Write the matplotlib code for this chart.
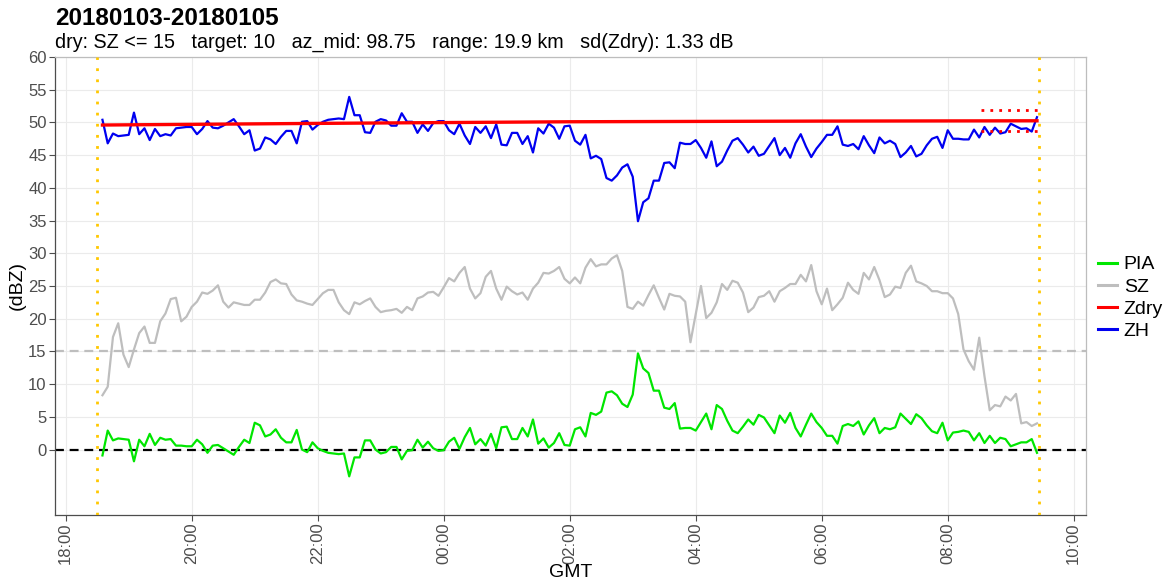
import matplotlib
matplotlib.use("Agg")
import matplotlib.pyplot as plt
import matplotlib.dates as mdates
import pandas as pd
import numpy as np

# ---------------- data ----------------
start_time = "2018-01-03 18:35"
step = "5min"

ZH = [50.4, 46.8, 48.3, 47.9, 48.0, 48.1, 51.5, 48.2, 49.1, 47.3,
      49.0, 47.9, 48.2, 48.0, 49.1, 49.2, 49.3, 49.3, 48.2, 49.0,
      50.2, 49.2, 49.1, 49.5, 50.0, 50.5, 49.4, 48.2, 48.8, 45.7,
      46.0, 47.7, 47.4, 46.7, 47.8, 48.7, 48.7, 46.8, 50.1, 50.2,
      48.9, 49.6, 50.1, 50.4, 50.5, 50.6, 50.5, 53.9, 51.1, 51.1,
      48.5, 48.4, 50.1, 50.5, 50.3, 49.5, 49.5, 51.4, 50.1, 50.1,
      48.4, 49.7, 48.7, 49.9, 50.2, 50.2, 48.8, 48.2, 49.8, 48.0,
      46.7, 49.3, 48.4, 49.4, 47.6, 49.7, 46.6, 46.5, 48.4, 48.4,
      46.7, 47.9, 45.4, 49.1, 48.3, 49.8, 49.2, 47.5, 49.4, 49.5,
      47.2, 46.6, 48.1, 44.5, 44.9, 44.4, 41.5, 41.1, 41.9, 43.1,
      43.6, 41.7, 34.9, 37.8, 38.4, 41.1, 41.1, 43.8, 43.9, 43.0,
      46.9, 46.7, 46.7, 47.3, 46.1, 44.6, 47.1, 43.3, 44.0, 45.7,
      47.2, 47.6, 46.6, 45.4, 46.3, 44.9, 45.2, 46.4, 47.6, 45.0,
      46.1, 44.6, 46.8, 48.2, 46.3, 44.7, 46.0, 47.0, 48.1, 48.1,
      49.4, 46.6, 46.4, 46.7, 45.9, 47.9, 46.5, 45.3, 47.7, 46.8,
      47.2, 46.7, 44.7, 45.4, 46.4, 44.8, 45.2, 46.5, 47.5, 47.8,
      46.1, 48.8, 47.5, 47.5, 47.4, 47.4, 48.9, 47.7, 49.3, 48.1,
      49.2, 48.3, 48.5, 49.8, 49.4, 49.0, 49.1, 48.6, 50.8]

SZ = [8.3, 9.6, 17.2, 19.3, 14.5, 12.6, 15.3, 17.8, 18.8, 16.3,
      16.3, 19.6, 20.8, 23.0, 23.2, 19.6, 20.3, 21.8, 22.6, 24.0,
      23.8, 24.3, 25.1, 22.6, 21.7, 22.5, 22.3, 22.1, 22.1, 22.9,
      22.9, 24.0, 25.6, 26.0, 25.4, 25.3, 23.7, 22.8, 22.6, 22.3,
      22.1, 23.0, 23.9, 24.4, 24.4, 22.5, 21.3, 20.7, 22.5, 22.2,
      22.7, 23.1, 21.8, 21.0, 21.2, 21.3, 21.5, 20.9, 21.8, 21.3,
      23.1, 23.4, 24.0, 24.1, 23.5, 24.8, 26.2, 25.7, 27.0, 27.9,
      24.6, 23.1, 23.9, 26.4, 27.3, 24.6, 22.9, 24.9, 24.2, 23.7,
      24.0, 22.9, 24.6, 25.5, 27.0, 26.9, 27.3, 27.9, 26.1, 25.4,
      26.3, 25.4, 27.8, 29.1, 28.0, 28.3, 28.3, 29.2, 29.7, 27.3,
      21.8, 21.5, 22.6, 22.0, 23.6, 25.1, 23.2, 21.4, 23.8, 23.5,
      23.4, 22.6, 16.4, 20.7, 25.0, 20.1, 20.9, 22.5, 25.3, 24.4,
      25.8, 25.5, 24.0, 21.0, 21.7, 23.3, 23.5, 24.2, 22.6, 24.2,
      24.7, 25.3, 25.3, 26.7, 25.7, 28.2, 24.2, 22.2, 24.6, 21.3,
      22.2, 23.2, 25.5, 24.4, 23.8, 27.0, 26.0, 27.9, 25.9, 23.3,
      23.7, 24.9, 24.7, 27.0, 28.1, 25.7, 25.4, 25.0, 24.2, 24.2,
      23.9, 23.9, 23.1, 20.7, 15.3, 13.5, 12.2, 17.1, 11.2, 6.0,
      6.8, 6.6, 8.1, 7.5, 8.5, 4.0, 4.2, 3.6, 4.0]

PIA = [-0.9, 2.9, 1.4, 1.7, 1.6, 1.5, -1.8, 1.5, 0.5, 2.4,
       0.7, 1.8, 1.5, 1.6, 0.6, 0.6, 0.5, 0.5, 1.5, 0.8,
       -0.5, 0.6, 0.7, 0.2, -0.3, -0.8, 0.4, 1.5, 1.0, 4.1,
       3.7, 2.0, 2.3, 3.1, 1.8, 1.1, 1.1, 3.0, 0.0, -0.4,
       1.1, 0.2, -0.2, -0.5, -0.6, -0.7, -0.6, -4.1, -1.2, -1.2,
       1.4, 1.4, 0.0, -0.6, -0.4, 0.4, 0.4, -1.5, -0.2, -0.1,
       1.5, 0.3, 1.2, 0.2, -0.2, -0.1, 1.2, 1.8, 0.1, 1.9,
       3.3, 0.8, 1.6, 0.6, 2.4, 0.2, 3.4, 3.5, 1.6, 1.6,
       3.3, 2.0, 4.6, 0.9, 1.7, 0.3, 1.0, 2.5, 0.7, 0.6,
       3.1, 3.4, 2.0, 5.6, 5.3, 5.8, 8.7, 8.9, 8.3, 7.0,
       6.5, 8.4, 14.7, 12.4, 11.7, 9.0, 9.0, 6.4, 6.2, 7.1,
       3.2, 3.3, 3.3, 2.9, 4.2, 5.5, 3.1, 6.8, 6.2, 4.4,
       2.9, 2.5, 3.5, 4.6, 3.8, 5.3, 4.9, 3.7, 2.5, 5.2,
       4.1, 5.6, 3.3, 2.0, 3.8, 5.5, 4.2, 3.3, 2.1, 2.1,
       0.9, 3.6, 3.9, 3.6, 4.3, 2.3, 3.7, 4.8, 2.5, 3.3,
       3.1, 3.4, 5.5, 4.7, 3.9, 5.4, 4.8, 3.7, 2.8, 2.5,
       4.1, 1.4, 2.6, 2.7, 2.9, 2.7, 1.4, 2.5, 1.0, 2.1,
       1.0, 1.8, 1.6, 0.5, 0.8, 1.1, 1.1, 1.6, -0.5]

zdry_times = ["2018-01-03 18:35", "2018-01-03 22:00", "2018-01-04 02:00",
              "2018-01-04 06:00", "2018-01-04 09:25"]
zdry_vals = [49.6, 49.85, 50.1, 50.2, 50.25]

band_times = ["2018-01-04 08:32", "2018-01-04 09:27"]
band_upper = 51.9
band_lower = 48.7

vline_times = ["2018-01-03 18:30", "2018-01-04 09:27"]
dry_threshold = 15
zero_level = 0

x_limits = ["2018-01-03 17:49:50", "2018-01-04 10:11:40"]
y_limits = (-10, 60)
y_ticks = list(range(0, 61, 5))

title = "20180103-20180105"
subtitle = "dry: SZ <= 15   target: 10   az_mid: 98.75   range: 19.9 km   sd(Zdry): 1.33 dB"

# ---------------- plot ----------------
plt.rcParams['font.family'] = ['Liberation Sans', 'DejaVu Sans']

times = pd.date_range(start_time, periods=len(ZH), freq=step)

fig = plt.figure(figsize=(11.71, 5.85), dpi=100)
ax = fig.add_axes([0.047, 0.1197, 0.8804, 0.7829])

grid_c = "#EBEBEB"
for yv in y_ticks:
    ax.axhline(yv, color=grid_c, lw=0.8, zorder=0)
ax.xaxis.grid(True, color=grid_c, lw=0.8, zorder=0)
ax.set_axisbelow(True)

ax.axhline(dry_threshold, color="#BEBEBE", lw=1.6, ls=(0, (4, 2.6)), zorder=1)
ax.axhline(zero_level, color="black", lw=1.6, ls=(0, (4, 2.6)), zorder=1)

ax.plot(times, PIA, color="#00E600", lw=1.6, label="PIA", zorder=3)
ax.plot(times, SZ, color="#BEBEBE", lw=1.6, label="SZ", zorder=3)
ax.plot(pd.to_datetime(zdry_times), zdry_vals, color="#FF0000", lw=2.4,
        label="Zdry", zorder=4)
ax.plot(times, ZH, color="#0000F0", lw=1.6, label="ZH", zorder=3.5)

bt = pd.to_datetime(band_times)
ax.plot(bt, [band_upper, band_upper], color="#FF0000", lw=2.0,
        ls=(0, (1, 2.2)), zorder=5)
ax.plot(bt, [band_lower, band_lower], color="#FF0000", lw=2.0,
        ls=(0, (1, 2.2)), zorder=5)

for vt in pd.to_datetime(vline_times):
    ax.axvline(vt, color="#FFC800", lw=2.0, ls=(0, (1, 3)), zorder=6)

ax.set_xlim(pd.to_datetime(x_limits[0]), pd.to_datetime(x_limits[1]))
ax.set_ylim(*y_limits)
ax.set_yticks(y_ticks)
ax.xaxis.set_major_locator(mdates.HourLocator(byhour=range(0, 24, 2)))
ax.xaxis.set_major_formatter(mdates.DateFormatter("%H:%M"))

for lbl in ax.get_xticklabels():
    lbl.set_rotation(90)
ax.tick_params(axis='both', colors="#4D4D4D", labelsize=12, length=4,
               width=0.8, labelcolor="#4D4D4D")
ax.tick_params(axis='x', pad=1.5)
ax.tick_params(axis='y', pad=2)

for side in ["top", "right"]:
    ax.spines[side].set_color("#BDBDBD")
    ax.spines[side].set_linewidth(0.9)
for side in ["left", "bottom"]:
    ax.spines[side].set_color("#4D4D4D")
    ax.spines[side].set_linewidth(0.9)

ax.set_ylabel("(dBZ)", fontsize=14)
ax.yaxis.label.set_va("center")
ax.yaxis.set_label_coords(-0.0365, 0.5)
ax.set_xlabel("GMT", fontsize=14)
ax.xaxis.label.set_va("center")
ax.xaxis.set_label_coords(0.5, -0.1265)

fig.text(0.047, 0.969, title, fontsize=17.5, fontweight="bold", va="center", ha="left")
fig.text(0.047, 0.928, subtitle, fontsize=14.2, va="center", ha="left")

handles, labels = ax.get_legend_handles_labels()
leg = fig.legend(handles, labels, loc="center left", bbox_to_anchor=(0.938, 0.4906),
                 frameon=False, fontsize=14, handlelength=0.95, handletextpad=0.35,
                 labelspacing=0.24, borderaxespad=0, borderpad=0)
for lh in leg.get_lines():
    lh.set_linewidth(2.2)

fig.savefig("out.png", dpi=100)
